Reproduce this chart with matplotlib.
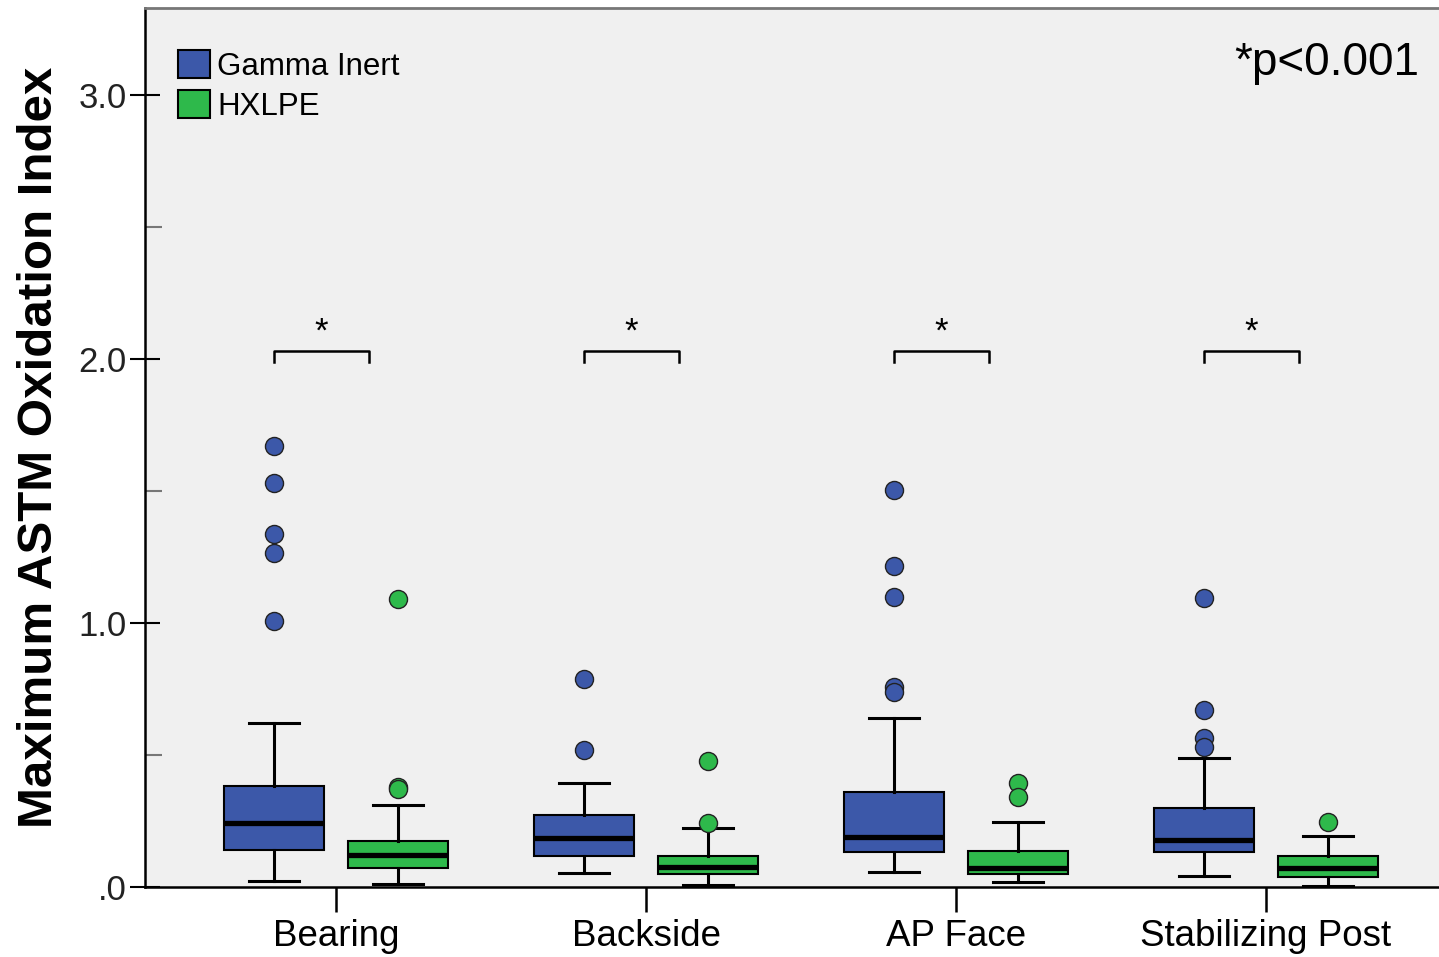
import numpy as np
import matplotlib.pyplot as plt
from matplotlib.patches import Patch

plt.rcParams['font.family'] = ['Liberation Sans', 'DejaVu Sans']

categories = ["Bearing", "Backside", "AP Face", "Stabilizing Post"]
groups = ["Gamma Inert", "HXLPE"]

# box statistics (whislo, q1, med, q3, whishi)
gamma_whislo = [0.023, 0.053, 0.057, 0.042]
gamma_q1 = [0.140, 0.117, 0.133, 0.133]
gamma_med = [0.242, 0.186, 0.190, 0.178]
gamma_q3 = [0.383, 0.273, 0.360, 0.299]
gamma_whishi = [0.621, 0.394, 0.640, 0.489]
gamma_fliers = [[1.67, 1.53, 1.337, 1.265, 1.008],
                [0.79, 0.52],
                [1.504, 1.216, 1.098, 0.758, 0.739],
                [1.095, 0.67, 0.564, 0.53]]

hx_whislo = [0.011, 0.008, 0.019, 0.004]
hx_q1 = [0.072, 0.049, 0.049, 0.038]
hx_med = [0.121, 0.076, 0.072, 0.072]
hx_q3 = [0.174, 0.117, 0.136, 0.117]
hx_whishi = [0.311, 0.224, 0.246, 0.193]
hx_fliers = [[1.09, 0.38, 0.37],
             [0.477, 0.242],
             [0.394, 0.341],
             [0.246]]

blue = "#3C58A9"
green = "#2EB94B"


def makeStats(whislo, q1, med, q3, whishi, fliers):
    stats = []
    for i in range(len(med)):
        stats.append(dict(whislo=whislo[i], q1=q1[i], med=med[i], q3=q3[i],
                          whishi=whishi[i], fliers=fliers[i]))
    return stats


def drawGroup(ax, stats, positions, color):
    ax.bxp(stats, positions=positions, widths=0.32, patch_artist=True,
           showfliers=True,
           boxprops=dict(facecolor=color, edgecolor="black", linewidth=1.5),
           medianprops=dict(color="black", linewidth=3.8),
           whiskerprops=dict(color="black", linewidth=2.2),
           capprops=dict(color="black", linewidth=2.2),
           capwidths=0.16,
           flierprops=dict(marker="o", markerfacecolor=color, markeredgecolor="#222222",
                           markeredgewidth=1.0, markersize=13, linestyle="none"))


def main():
    fig = plt.figure(figsize=(14.39, 9.57), dpi=100)
    ax = fig.add_axes([0.1008, 0.0731, 0.8992, 0.9185])
    ax.set_facecolor("#F0F0F0")

    x = np.arange(len(categories))
    drawGroup(ax, makeStats(gamma_whislo, gamma_q1, gamma_med, gamma_q3, gamma_whishi, gamma_fliers),
              x - 0.2, blue)
    drawGroup(ax, makeStats(hx_whislo, hx_q1, hx_med, hx_q3, hx_whishi, hx_fliers),
              x + 0.2, green)

    # significance brackets
    for c in x:
        x0 = c - 0.2
        x1 = c - 0.2 + 0.306
        ax.plot([x0, x0, x1, x1], [1.99, 2.03, 2.03, 1.99], color="black", linewidth=1.8)
        ax.text((x0 + x1) / 2, 2.04, "*", ha="center", va="bottom", fontsize=25)

    ax.text(0.985, 0.9375, "*p<0.001", transform=ax.transAxes, ha="right", va="center", fontsize=33)

    ax.set_xlim(-0.616, 3.558)
    ax.set_ylim(0, 3.33)
    ax.set_xticks(x)
    ax.set_xticklabels(categories, fontsize=26.5)
    ax.tick_params(axis="x", length=18, width=1.8, direction="out", pad=5, colors="black")
    ax.set_yticks([0, 1, 2, 3])
    ax.set_yticklabels([".0", "1.0", "2.0", "3.0"], fontsize=25, color="#222222")
    ax.set_yticks([0.5, 1.5, 2.5], minor=True)
    ax.tick_params(axis="y", which="major", length=22, width=1.5, direction="inout", pad=2)
    ax.tick_params(axis="y", which="minor", length=12, width=1.5, direction="in", color="#777777")

    ax.spines["right"].set_visible(False)
    ax.spines["top"].set_color("#777777")
    ax.spines["top"].set_linewidth(2)
    ax.spines["left"].set_linewidth(1.8)
    ax.spines["bottom"].set_linewidth(1.8)

    ax.set_ylabel("Maximum ASTM Oxidation Index", fontsize=35.5, fontweight="bold", labelpad=12)

    handles = [Patch(facecolor=blue, edgecolor="black", linewidth=1.5),
               Patch(facecolor=green, edgecolor="black", linewidth=1.5)]
    ax.legend(handles, groups, loc="upper left", bbox_to_anchor=(0.016, 0.966), frameon=False,
              fontsize=22.5, handlelength=1.0, handleheight=1.0, handletextpad=0.25,
              labelspacing=0.25, borderaxespad=0)

    fig.savefig("out.png", dpi=100)
    plt.close(fig)


if __name__ == "__main__":
    main()
